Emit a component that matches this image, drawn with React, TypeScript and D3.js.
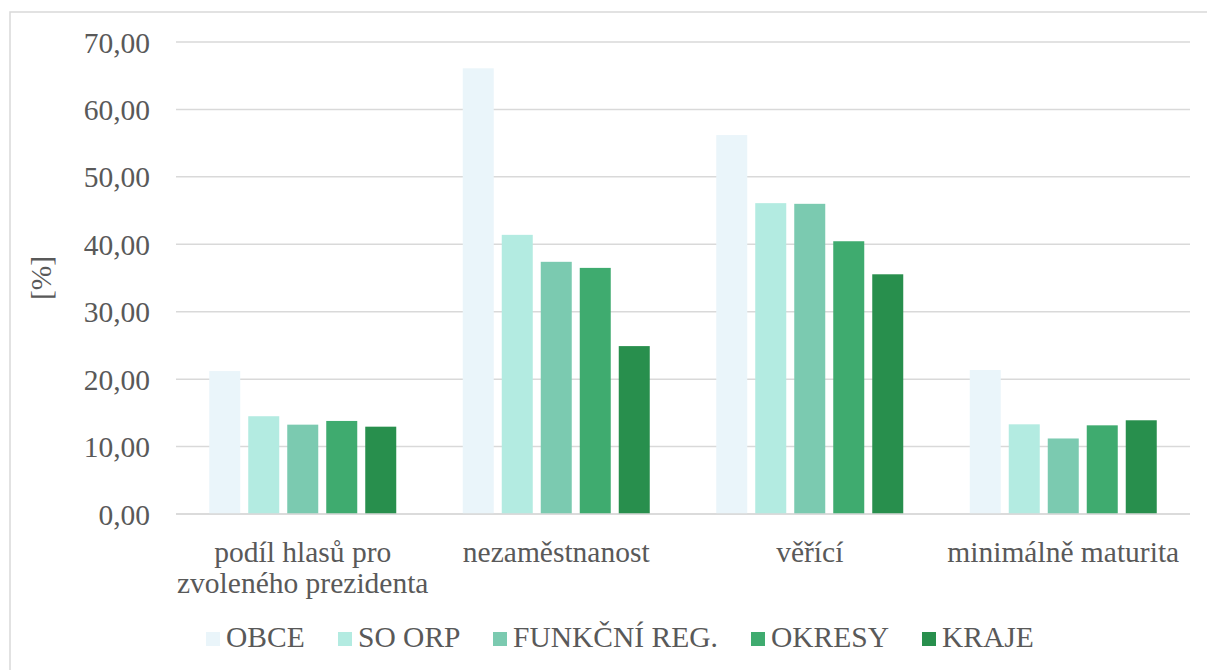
import React from "react";
import * as d3 from "d3";

const categories: string[][] = [
  ["podíl hlasů pro", "zvoleného prezidenta"],
  ["nezaměstnanost"],
  ["věřící"],
  ["minimálně maturita"],
];
const seriesNames = ["OBCE", "SO ORP", "FUNKČNÍ REG.", "OKRESY", "KRAJE"];
const seriesColors = ["#EAF5FA", "#B3EBE1", "#7BCAB0", "#3FAB6F", "#288F4D"];
const obce = [21.2, 66.1, 56.2, 21.35];
const soOrp = [14.5, 41.4, 46.1, 13.3];
const funkcniReg = [13.25, 37.4, 46.0, 11.2];
const okresy = [13.8, 36.5, 40.45, 13.15];
const kraje = [12.95, 24.9, 35.55, 13.9];
const yTicks = [0, 10, 20, 30, 40, 50, 60, 70];

const seriesValues = [obce, soOrp, funkcniReg, okresy, kraje];

const FONT = "Liberation Serif";
const FS = 29.5;

export default function App() {
  const W = 1207;
  const H = 670;
  const left = 176;
  const right = 1190;
  const y = d3.scaleLinear().domain([0, 70]).range([514, 42]);
  const catKeys = categories.map((_, i) => String(i));
  const x0 = d3.scaleBand<string>().domain(catKeys).range([left, right]);
  const groupW = 187;
  const x1 = d3
    .scaleBand<string>()
    .domain(seriesNames)
    .range([0, groupW])
    .paddingInner(8 / 39)
    .paddingOuter(0);
  const offset = (x0.bandwidth() - groupW) / 2;
  const fmt = (v: number) => v.toFixed(2).replace(".", ",");
  const textColor = "#595959";

  return (
    <svg
      width={W}
      height={H}
      fontFamily={FONT}
      style={{ position: "fixed", left: 0, top: 0, background: "#fff" }}
    >
      <rect x={10} y={12} width={1300} height={800} fill="#fff" stroke="#D9D9D9" strokeWidth={1.5} />
      {yTicks.map((t) => (
        <g key={t}>
          <line x1={left} x2={right} y1={y(t)} y2={y(t)} stroke="#D9D9D9" strokeWidth={1.5} />
          <text x={150} y={y(t) + 10.5} textAnchor="end" fontSize={FS} fill={textColor} fontFamily={FONT}>
            {fmt(t)}
          </text>
        </g>
      ))}
      <text
        transform={`translate(51,${y(35)}) rotate(-90)`}
        textAnchor="middle"
        fontSize={FS}
        fill={textColor}
        fontFamily={FONT}
      >
        [%]
      </text>
      {catKeys.map((k, ci) => (
        <g key={k}>
          {seriesNames.map((s, si) => {
            const v = seriesValues[si][ci];
            return (
              <rect
                key={s}
                x={(x0(k) as number) + offset + (x1(s) as number)}
                y={y(v)}
                width={x1.bandwidth()}
                height={y(0) - y(v)}
                fill={seriesColors[si]}
              />
            );
          })}
          {categories[ci].map((line, li) => (
            <text
              key={li}
              x={(x0(k) as number) + x0.bandwidth() / 2}
              y={562 + li * 31}
              textAnchor="middle"
              fontSize={FS}
              fill={textColor}
              fontFamily={FONT}
            >
              {line}
            </text>
          ))}
        </g>
      ))}
      <line x1={left} x2={right} y1={y(0)} y2={y(0)} stroke="#D9D9D9" strokeWidth={1.5} />
      {(() => {
        const xs = [206, 338, 493, 751, 922];
        return seriesNames.map((s, i) => (
          <g key={s}>
            <rect x={xs[i]} y={632} width={14} height={14} fill={seriesColors[i]} />
            <text x={xs[i] + 20} y={647} fontSize={FS} fill={textColor} fontFamily={FONT}>
              {s}
            </text>
          </g>
        ));
      })()}
    </svg>
  );
}
